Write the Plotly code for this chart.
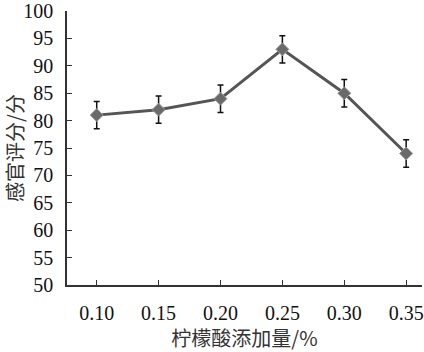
import plotly.graph_objects as go

x_vals = [0.10, 0.15, 0.20, 0.25, 0.30, 0.35]
x_labels = ["0.10", "0.15", "0.20", "0.25", "0.30", "0.35"]
scores = [81, 82, 84, 93, 85, 74]
errors = [2.5, 2.5, 2.5, 2.5, 2.5, 2.5]
y_ticks = list(range(50, 101, 5))

fig = go.Figure()
fig.add_trace(go.Scatter(
    x=x_vals, y=scores,
    mode="lines+markers",
    line=dict(color="#555555", width=3),
    marker=dict(symbol="diamond", size=10, color="#6a6a6a",
                line=dict(color="#9a9a9a", width=1)),
    error_y=dict(type="data", array=errors, visible=True,
                 color="#111111", thickness=1.5, width=3),
    showlegend=False,
))

num_font = dict(family="Liberation Serif, Times New Roman, serif", size=20, color="#111111")
cjk_font = dict(family="Noto Sans CJK SC", size=20, color="#333333")
fig.update_layout(
    width=424, height=352,
    margin=dict(l=67, r=0, t=10, b=67),
    paper_bgcolor="white", plot_bgcolor="white",
    xaxis=dict(
        range=[0.076, 0.3628],
        tickvals=x_vals, ticktext=x_labels,
        ticks="inside", ticklen=5, tickwidth=1.2, tickcolor="#333333",
        showline=True, linecolor="#333333", linewidth=1.5,
        showgrid=False, zeroline=False,
        tickfont=num_font,
        ticklabelstandoff=9,
        ticklabeloverflow="allow",
        title=dict(text="柠檬酸添加量/%", font=cjk_font, standoff=12),
    ),
    yaxis=dict(
        range=[50, 100],
        tickvals=y_ticks,
        ticks="inside", ticklen=5, tickwidth=1.2, tickcolor="#333333",
        showline=True, linecolor="#333333", linewidth=1.5,
        showgrid=False, zeroline=False,
        tickfont=num_font,
        ticklabelstandoff=8,
        ticklabeloverflow="allow",
        title=dict(text="感官评分/分", font=cjk_font, standoff=2),
    ),
)

fig.write_html("out.html")
